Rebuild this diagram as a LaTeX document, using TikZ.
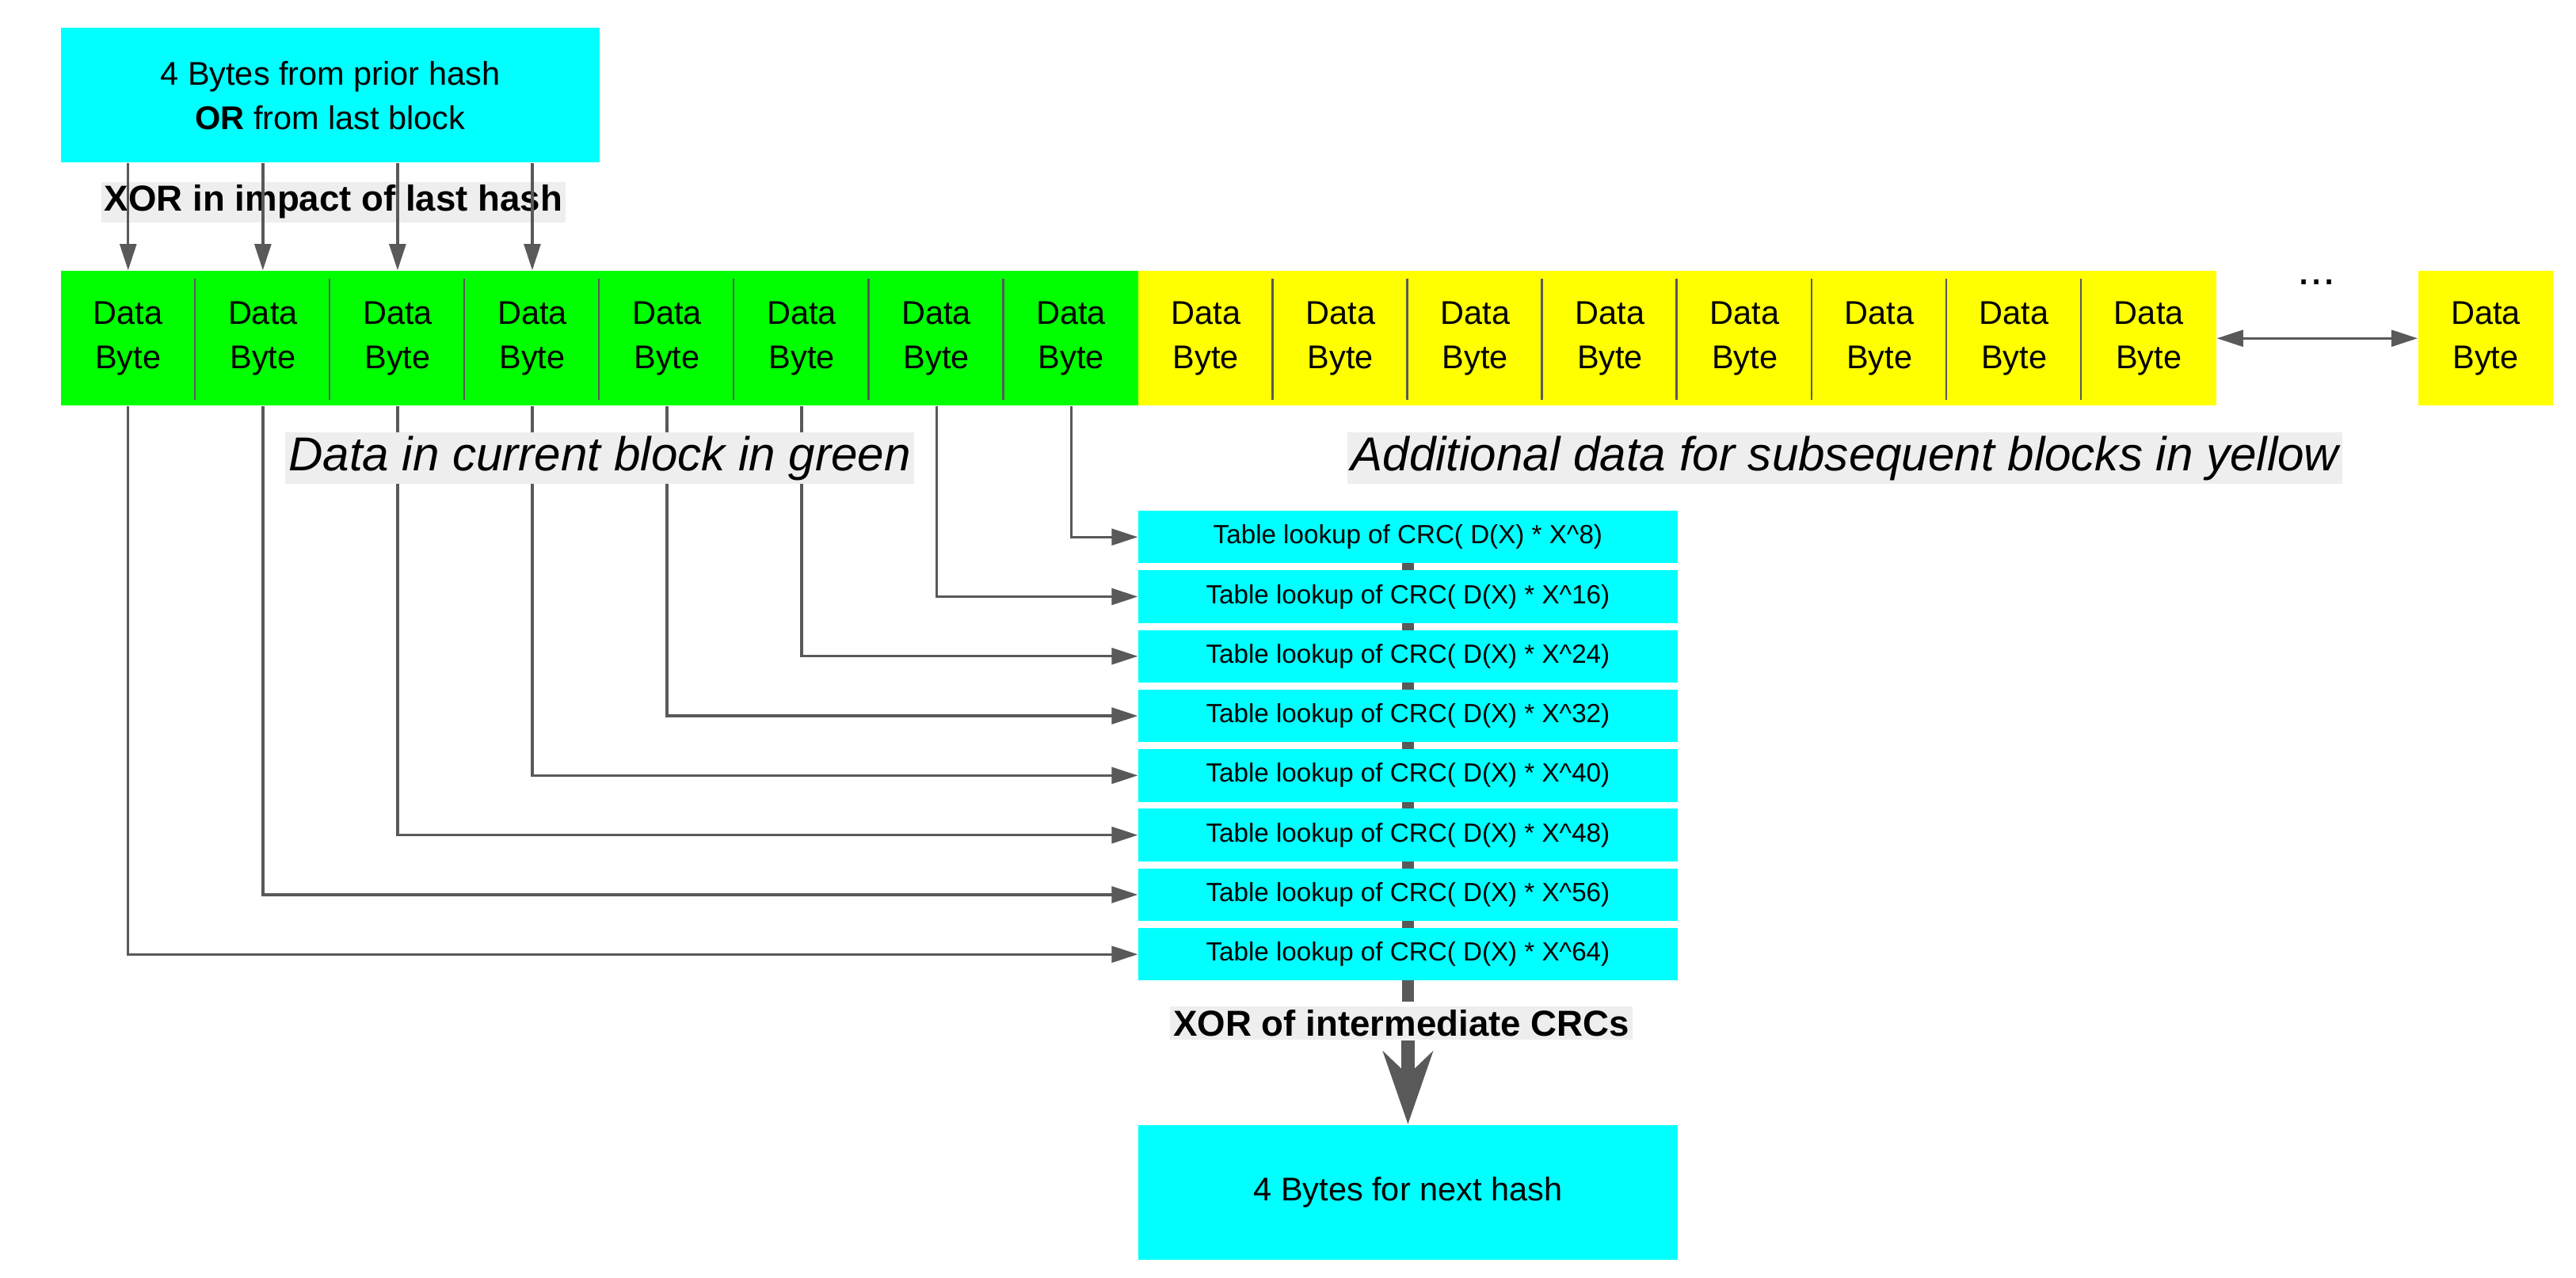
\documentclass[tikz,border=0pt]{standalone}
\usepackage{fontspec}
\setmainfont{Liberation Sans}
\usetikzlibrary{positioning,arrows.meta,calc}
\definecolor{cyanbox}{RGB}{0,255,255}
\definecolor{greenbox}{RGB}{0,255,0}
\definecolor{yellowbox}{RGB}{255,255,0}
\definecolor{linegray}{RGB}{89,89,89}
\definecolor{labelbg}{RGB}{238,238,238}
\tikzset{
  box/.style={fill=cyanbox,inner sep=0pt,align=center},
  cell/.style={minimum width=41pt,minimum height=41pt,inner sep=0pt,align=center,font=\fontsize{10}{13.5}\selectfont},
  lookup/.style={box,minimum width=164pt,minimum height=16pt,font=\fontsize{8}{9}\selectfont},
  tag/.style={fill=labelbg,inner sep=1pt},
  conn/.style={draw=linegray,line width=0.8pt,-{Triangle[length=8pt,width=5pt]}},
  sep/.style={draw=linegray,line width=0.6pt}
}
\begin{document}
\begin{tikzpicture}[x=0.5pt,y=-0.5pt]
\useasboundingbox (0,0) rectangle (1568,778);

% top and bottom hash boxes
\node[box,minimum width=164pt,minimum height=41pt,font=\fontsize{10}{13.5}\selectfont] (prior) at (201,58) {4 Bytes from prior hash\\\textbf{OR} from last block};
\node[box,minimum width=164pt,minimum height=41pt,font=\fontsize{10}{12}\selectfont] (next) at (857,726) {4 Bytes for next hash};

% data bytes
\foreach \i in {0,...,7}{
  \node[cell,fill=greenbox] (g\i) at ({78+82*\i},206) {Data\\Byte};
  \node[cell,fill=yellowbox] (y\i) at ({734+82*\i},206) {Data\\Byte};
}
\node[cell,fill=yellowbox] (ylast) at (1513,206) {Data\\Byte};
\foreach \i in {1,...,7}{
  \draw[sep] ($(g\i.north west)+(0,5)$) -- ($(g\i.south west)+(0,-4)$);
  \draw[sep] ($(y\i.north west)+(0,5)$) -- ($(y\i.south west)+(0,-4)$);
}
\node[font=\fontsize{14}{14}\selectfont] (dots) at (1410,172) {...};
\draw[draw=linegray,line width=0.8pt,{Triangle[length=8pt,width=5pt]}-{Triangle[length=8pt,width=5pt]}] (y7.east) -- (ylast.west);

% xor in from prior hash
\node[tag,font=\bfseries\fontsize{11}{12}\selectfont] (xorin) at (203,123) {XOR in impact of last hash};
\foreach \i in {0,...,3}{
  \draw[conn] (prior.south -| g\i) -- (g\i.north);
}

% lookup table boxes, with the xor bar behind them
\draw[draw=linegray,line width=3.5pt] (857,311) -- (857,610);
\foreach \k [evaluate=\k as \n using int(8*\k)] in {1,...,8}{
  \node[lookup] (t\k) at (857,{327+36.3*(\k-1)}) {Table lookup of CRC( D(X) * X\string^\n)};
}
\foreach \k [evaluate=\k as \j using int(8-\k)] in {1,...,8}{
  \draw[conn] (g\j.south) |- (t\k.west);
}

% labels
\node[tag,font=\itshape\fontsize{14.5}{16}\selectfont] (green) at (365,279) {Data in current block in green};
\node[tag,font=\itshape\fontsize{14.5}{16}\selectfont] (yellow) at (1123,279) {Additional data for subsequent blocks in yellow};
\node[tag,font=\bfseries\fontsize{11}{12}\selectfont] (xorout) at (853,623) {XOR of intermediate CRCs};
\draw[draw=linegray,line width=4pt,-{Stealth[length=22pt,width=15pt,inset=7pt]}] (xorout.south -| next) -- (next.north);
\end{tikzpicture}
\end{document}
